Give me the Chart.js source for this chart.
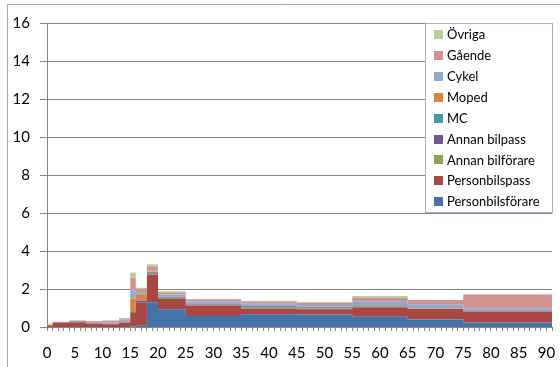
<!DOCTYPE html>
<html>
<head>
<meta charset="utf-8">
<script src="https://cdn.jsdelivr.net/npm/chart.js@4.4.0/dist/chart.umd.min.js"></script>
<style>
	body { margin: 0; background: #fff; }
</style>
</head>
<body>
<canvas id="myChart" width="560" height="367"></canvas>
<script>

// åldersgrupper (första året i varje grupp), sista gruppen 75+ går till 91
const groupStart = [0, 1, 4, 7, 10, 13, 15, 16, 18, 20, 25, 35, 45, 55, 65, 75];
const lastAge = 91;

// värden per åldersgrupp
const personbilsforare = [0, 0, 0, 0, 0, 0, 0.02, 0.07, 1.3, 0.93, 0.58, 0.67, 0.66, 0.54, 0.4, 0.24];
const personbilspass = [0.08, 0.24, 0.24, 0.16, 0.15, 0.22, 0.72, 1.2, 1.45, 0.55, 0.55, 0.3, 0.28, 0.5, 0.55, 0.57];
const annanBilforare = [0, 0, 0, 0, 0, 0, 0, 0, 0.05, 0.04, 0.02, 0.04, 0.04, 0.04, 0.01, 0.01];
const annanBilpass = [0, 0, 0.05, 0.02, 0, 0.02, 0, 0.12, 0.05, 0.03, 0.03, 0.03, 0.03, 0.04, 0.01, 0.01];
const mc = [0, 0, 0, 0, 0, 0.04, 0.05, 0.02, 0.05, 0.04, 0.02, 0.08, 0.04, 0.03, 0.01, 0];
const moped = [0, 0, 0, 0, 0.01, 0.03, 0.7, 0.27, 0.02, 0.02, 0.01, 0.02, 0.01, 0.01, 0.01, 0];
const cykel = [0, 0.01, 0.01, 0.02, 0.07, 0.1, 0.44, 0.09, 0.04, 0.1, 0.13, 0.1, 0.1, 0.2, 0.18, 0.14];
const gaende = [0.07, 0.03, 0.02, 0.1, 0.11, 0.05, 0.66, 0.2, 0.22, 0.12, 0.12, 0.1, 0.12, 0.17, 0.25, 0.74];
const ovriga = [0.02, 0, 0.03, 0, 0, 0, 0.28, 0.1, 0.12, 0.05, 0.02, 0.04, 0.03, 0.1, 0, 0.01];

const yTicks = [0, 2, 4, 6, 8, 10, 12, 14, 16];

let ages = [];
for (let a = 0; a <= lastAge; a++) {
	ages.push(a);
}

// sprid gruppvärdet över varje ålder i gruppen
function perAge(values) {
	let out = [];
	for (let a = 0; a <= lastAge; a++) {
		let g = 0;
		for (let i = 0; i < groupStart.length; i++) {
			if (a >= groupStart[i]) g = i;
		}
		out.push(values[g]);
	}
	return out;
}

function serie(label, values, color, first) {
	return {
		label: label,
		data: perAge(values),
		backgroundColor: color,
		borderColor: color,
		borderWidth: 0,
		pointRadius: 0,
		stepped: true,
		fill: first ? 'origin' : '-1'
	};
}

// ram runt diagrammet
const frame = {
	id: 'frame',
	beforeDraw(chart) {
		const c = chart.ctx;
		c.save();
		c.strokeStyle = '#a6a6a6';
		c.lineWidth = 1;
		c.beginPath();
		c.moveTo(7.5, 367);
		c.lineTo(7.5, 4.5);
		c.lineTo(560, 4.5);
		c.stroke();
		c.restore();
	}
};

// förklaring i omvänd ordning, ovanpå ritytan
const legendBox = {
	id: 'legendBox',
	afterDraw(chart) {
		const c = chart.ctx;
		const sets = chart.data.datasets;
		c.save();
		c.fillStyle = '#fff';
		c.fillRect(425, 23, 128, 190);
		c.strokeStyle = '#9db3d6';
		c.lineWidth = 1;
		c.strokeRect(425.5, 23.5, 127, 189);
		c.font = '13px Lato';
		c.textBaseline = 'middle';
		for (let i = 0; i < sets.length; i++) {
			let ds = sets[sets.length - 1 - i];
			let y = 34.5 + i * 20.9;
			c.fillStyle = ds.backgroundColor;
			c.fillRect(434, Math.round(y - 4.5), 9, 9);
			c.fillStyle = '#000';
			c.fillText(ds.label, 447, y + 0.5);
		}
		c.restore();
	}
};

const ctx = document.getElementById('myChart');

new Chart(ctx, {
	type: 'line',
	data: {
		labels: ages,
		datasets: [
			serie('Personbilsförare', personbilsforare, '#4572A7', true),
			serie('Personbilspass', personbilspass, '#AA4643'),
			serie('Annan bilförare', annanBilforare, '#89A54E'),
			serie('Annan bilpass', annanBilpass, '#71588F'),
			serie('MC', mc, '#4198AF'),
			serie('Moped', moped, '#DB843D'),
			serie('Cykel', cykel, '#93A9CF'),
			serie('Gående', gaende, '#D19392'),
			serie('Övriga', ovriga, '#B9CD96')
		]
	},
	options: {
		responsive: false,
		animation: false,
		layout: {
			padding: { top: 23, right: 8, left: 0, bottom: 0 }
		},
		plugins: {
			legend: { display: false },
			tooltip: { enabled: false }
		},
		scales: {
			x: {
				offset: false,
				afterFit: function(scale) {
					scale.height = 40;
					scale.paddingLeft = 0;
					scale.paddingRight = 0;
				},
				grid: {
					drawOnChartArea: false,
					drawTicks: true,
					tickLength: 4,
					color: '#868686'
				},
				border: { color: '#868686' },
				ticks: {
					autoSkip: false,
					maxRotation: 0,
					minRotation: 0,
					padding: 13,
					color: '#000',
					font: { family: 'Lato', size: 15 },
					callback: function(val, i) {
						return i % 5 === 0 && i <= 90 ? String(ages[i]) : '';
					}
				}
			},
			y: {
				stacked: true,
				min: yTicks[0],
				max: yTicks[yTicks.length - 1],
				afterFit: function(scale) { scale.width = 47; },
				afterBuildTicks: function(scale) {
					scale.ticks = yTicks.map(function(v) { return { value: v }; });
				},
				grid: {
					color: '#868686',
					tickLength: 7
				},
				border: { color: '#868686' },
				ticks: {
					padding: 10,
					color: '#000',
					font: { family: 'Lato', size: 15 }
				}
			}
		}
	},
	plugins: [frame, legendBox]
});

</script>
</body>
</html>
